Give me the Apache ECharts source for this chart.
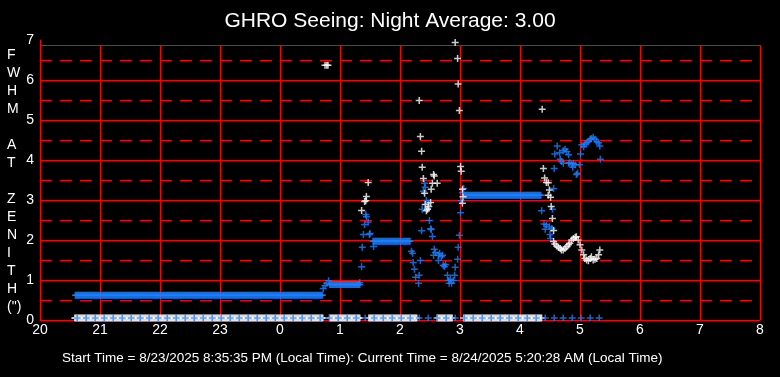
<!DOCTYPE html>
<html>
<head>
<meta charset="utf-8">
<script src="https://cdn.jsdelivr.net/npm/echarts@6/dist/echarts.min.js"></script>
<style>
html,body{margin:0;padding:0;background:#000;}
#chart{width:780px;height:377px;}
</style>
</head>
<body>
<div id="chart"></div>
<script>
// ---- Data (x = hours since 20:00 of start night, 24+ = next morning) ----
const xTickValues = [20,21,22,23,24,25,26,27,28,29,30,31,32];
const xTickLabels = ['20','21','22','23','0','1','2','3','4','5','6','7','8'];
const yTickLabels = ['0','1','2','3','4','5','6','7'];

// constant runs: [startHour, endHour, sampleStepMinutes, value]
const blueFlatRuns = [
  [20.59, 24.71, 1, 0.62],
  [24.83, 25.33, 1, 0.89],
  [25.55, 26.18, 1, 1.97],
  [27.08, 28.36, 1, 3.12]
];
const blueZeroRuns = [
  [20.62, 29.34, 9, 0.05]
];
const whiteZeroRuns = [
  [20.58, 24.72, 1, 0.05],
  [24.83, 25.34, 1, 0.05],
  [25.48, 26.28, 1, 0.05],
  [26.62, 26.88, 1, 0.05],
  [27.06, 28.36, 1, 0.05]
];

// individual scattered readings [hour, FWHM]
const blueScatter = [
  [24.72,0.79],[24.75,0.86],[24.78,0.92],[24.81,0.98],
  [25.33,0.94],[25.36,1.33],[25.37,1.82],[25.39,2.14],[25.41,2.39],[25.47,2.45],
  [25.43,2.64],[25.44,2.58],[25.5,2.16],[25.49,2.14],[25.56,1.84],
  [26.19,1.72],[26.21,1.67],[26.22,1.44],[26.24,1.27],[26.26,1.07],[26.31,0.92],
  [26.32,1.12],[26.34,1.49],[26.36,2.23],[26.37,2.77],[26.39,3.22],[26.41,3.42],
  [26.42,3.32],[26.44,2.99],[26.46,2.79],[26.47,2.92],[26.49,2.49],[26.51,2.28],
  [26.52,2.26],[26.54,2.09],
  [26.57,1.77],[26.59,1.69],[26.56,1.62],[26.64,1.62],[26.66,1.67],[26.69,1.59],
  [26.64,1.49],[26.71,1.62],[26.72,1.37],[26.74,1.34],[26.76,1.39],
  [26.79,1.12],[26.81,0.99],[26.82,0.92],[26.86,0.92],[26.89,0.99],[26.91,1.12],[26.84,1.02],
  [26.92,1.32],[26.96,1.52],[26.97,1.82],[26.99,2.12],[27.01,2.68],[27.02,2.98],
  [27.04,3.18],[27.06,3.29],
  [28.36,2.73],[28.54,2.77],[28.4,2.4],[28.44,2.38],[28.42,2.27],[28.49,2.33],
  [28.53,2.29],[28.5,2.14],[28.51,2.04],[28.56,3.29],[28.57,3.79],
  [28.62,4.35],[28.58,4.15],[28.66,4.18],[28.72,4.23],[28.75,4.27],[28.78,4.21],
  [28.81,4.13],[28.67,4.02],[28.69,3.96],[28.72,3.92],[28.81,3.92],[28.83,3.93],
  [28.86,3.9],[28.89,3.92],[28.92,3.88],[28.88,3.82],[28.99,3.88],[28.96,3.67],
  [28.94,3.64],[29.01,4.15],[29.03,4.38],[29.06,4.33],[29.08,4.4],[29.11,4.43],
  [29.14,4.46],[29.17,4.52],[29.19,4.54],[29.22,4.57],[29.25,4.52],[29.28,4.46],
  [29.31,4.43],[29.33,4.35],[29.34,4.02]
];
const whiteScatter = [
  [24.75,6.37],[24.78,6.37],[24.8,6.37],
  [25.36,2.74],[25.41,2.96],[25.43,2.98],[25.44,3.09],[25.47,3.44],
  [26.32,5.49],[26.34,4.59],[26.36,4.22],[26.37,3.82],[26.39,3.54],[26.41,3.17],
  [26.42,2.89],[26.44,2.73],[26.46,2.77],[26.48,2.84],[26.51,2.94],[26.52,3.27],
  [26.54,3.42],[26.56,3.64],[26.57,3.6],[26.62,3.42],
  [26.92,6.94],[26.96,6.54],[26.97,5.9],[26.99,5.24],[27.01,3.84],[27.02,3.72],
  [27.04,3.27],[27.05,3.08],[27.04,2.92],
  [28.37,5.27],[28.39,3.79],[28.41,3.55],[28.44,3.44],[28.47,3.43],[28.49,3.25],
  [28.47,3.12],[28.51,3.07],[28.52,2.84],[28.54,2.54],[28.56,2.24],
  [28.56,1.96],[28.58,1.9],[28.61,1.85],[28.64,1.82],[28.67,1.79],[28.69,1.75],
  [28.72,1.75],[28.75,1.79],[28.78,1.83],[28.81,1.88],[28.83,1.92],[28.86,2.0],
  [28.89,2.04],[28.92,2.07],[28.94,2.08],[28.97,2.0],[29.0,1.88],[29.03,1.75],
  [29.06,1.63],[29.08,1.54],[29.11,1.5],[29.14,1.48],[29.17,1.54],[29.19,1.58],
  [29.22,1.5],[29.25,1.52],[29.28,1.54],[29.31,1.63],[29.33,1.75]
];

const titleText = 'GHRO Seeing: Night Average: 3.00';
const footerText = 'Start Time = 8/23/2025 8:35:35 PM (Local Time): Current Time = 8/24/2025 5:20:28 AM (Local Time)';
const yAxisTitle = 'F\nW\nH\nM\n\nA\nT\n\nZ\nE\nN\nI\nT\nH\n(")';

// ---- Build ----
function expandRuns(runs){
  const out = [];
  runs.forEach(([a,b,step,v])=>{
    for(let t=a; t<=b+1e-9; t+=step/60) out.push([+t.toFixed(4), v]);
  });
  return out;
}
const RED = '#ff0000';
const BLUE = '#1a80ff';
const PLUS = 'path://M2.75,0H4.25V2.75H7V4.25H4.25V7H2.75V4.25H0V2.75H2.75Z';
const MS = 7;
const X0 = 20, X1 = 32, YTOP = 6.875;

const gridLines = [];
for (let x = 21; x <= 32; x++) gridLines.push([{coord:[x,0]},{coord:[x,YTOP]}]);
for (let y = 1; y <= 6; y++) gridLines.push([{coord:[X0,y]},{coord:[X1,y]}]);
gridLines.push([{coord:[X0,YTOP]},{coord:[X1,YTOP]}]);
const dashLines = [];
for (let y = 0.5; y < 7; y += 1) dashLines.push([{coord:[X0,y]},{coord:[X1,y]}]);

const chart = echarts.init(document.getElementById('chart'), null, {renderer:'canvas'});
const fontFam = '"Liberation Sans", Arial, sans-serif';
chart.setOption({
  backgroundColor:'#000',
  animation:false,
  title:[
    {text:titleText, left:'center', top:6, textStyle:{color:'#fff', fontSize:21, fontWeight:'normal', fontFamily:fontFam}},
    {text:footerText, left:57, top:346, textStyle:{color:'#fff', fontSize:13.5, fontWeight:'normal', fontFamily:fontFam}}
  ],
  graphic:[
    {type:'text', left:7, top:46, style:{text:yAxisTitle, fill:'#fff', font:'14px "Liberation Sans", Arial, sans-serif', lineHeight:18, align:'center', width:14}}
  ],
  grid:{left:40, right:20, top:40, bottom:57, containLabel:false},
  xAxis:{
    type:'value', min:X0, max:X1, interval:1, z:0,
    axisLine:{show:true, lineStyle:{color:RED, width:1}},
    axisTick:{show:false},
    splitLine:{show:false},
    axisLabel:{color:'#fff', fontSize:14, fontFamily:fontFam, margin:3,
      formatter:v=>{const i=xTickValues.indexOf(v); return i>=0?xTickLabels[i]:'';}}
  },
  yAxis:{
    type:'value', min:0, max:7, interval:1, z:0,
    axisLine:{show:true, lineStyle:{color:RED, width:1}},
    axisTick:{show:false},
    splitLine:{show:false},
    axisLabel:{color:'#fff', fontSize:14, fontFamily:fontFam, margin:6,
      formatter:v=>yTickLabels[Math.round(v)] ?? ''}
  },
  series:[
    {type:'scatter', name:'grid', data:[], silent:true, z:0,
      markLine:{silent:true, z:0, symbol:['none','none'], label:{show:false}, animation:false,
        lineStyle:{color:RED, width:1, type:'solid'}, data:gridLines}},
    {type:'scatter', name:'gridDash', data:[], silent:true, z:0,
      markLine:{silent:true, z:0, symbol:['none','none'], label:{show:false}, animation:false,
        lineStyle:{color:RED, width:1, type:[12,8]}, data:dashLines}},
    {type:'scatter', name:'whiteZero', data:expandRuns(whiteZeroRuns), symbol:PLUS, symbolSize:MS,
      itemStyle:{color:'#fff'}, clip:false, silent:true, z:3},
    {type:'scatter', name:'blue', data:expandRuns(blueFlatRuns).concat(blueScatter).concat(expandRuns(blueZeroRuns)),
      symbol:PLUS, symbolSize:MS, itemStyle:{color:BLUE}, clip:false, silent:true, z:4},
    {type:'scatter', name:'white', data:whiteScatter, symbol:PLUS, symbolSize:MS,
      itemStyle:{color:'#fff'}, clip:false, silent:true, z:5}
  ]
});
</script>
</body>
</html>
